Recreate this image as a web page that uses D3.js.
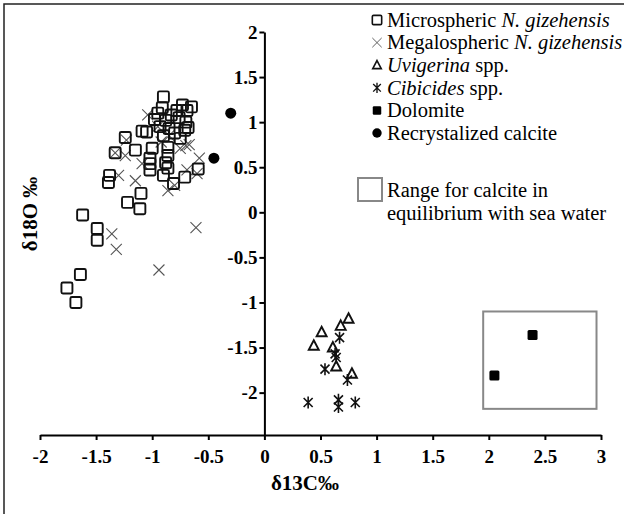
<!DOCTYPE html>
<html>
<head>
<meta charset="utf-8">
<script src="https://cdn.jsdelivr.net/npm/d3@7"></script>
<style>
  body { margin: 0; background: #fff; }
  svg, svg text { font-family: "Liberation Serif", "Times New Roman", serif; }
</style>
</head>
<body>
<div class="main"></div>
<script>
//// data
const microspheric = [[-0.90,1.28],[-0.91,1.16],[-0.73,1.19],[-0.65,1.17],[-0.78,1.13],[-0.69,1.13],[-0.95,1.10],[-0.83,1.08],[-0.76,1.05],[-0.98,1.03],[-0.88,1.02],[-0.70,1.00],[-1.09,0.90],[-1.05,0.89],[-0.93,0.95],[-0.85,0.93],[-0.71,0.91],[-0.68,0.94],[-0.80,0.88],[-0.90,0.85],[-0.75,0.82],[-1.24,0.83],[-1.15,0.69],[-1.33,0.66],[-1.00,0.71],[-1.02,0.60],[-1.02,0.54],[-1.02,0.47],[-0.86,0.63],[-0.86,0.72],[-0.88,0.55],[-0.86,0.49],[-0.90,0.41],[-0.81,0.32],[-0.71,0.39],[-0.59,0.48],[-1.38,0.41],[-1.39,0.33],[-1.10,0.21],[-1.22,0.11],[-1.11,0.04],[-1.62,-0.03],[-1.49,-0.18],[-1.49,-0.31],[-1.64,-0.69],[-1.76,-0.84],[-1.68,-1.00]];
const megalospheric = [[-1.04,1.08],[-1.23,0.80],[-1.24,0.63],[-1.33,0.66],[-1.09,0.54],[-1.15,0.35],[-1.30,0.41],[-0.86,0.24],[-0.80,0.30],[-0.69,0.47],[-0.60,0.43],[-0.58,0.60],[-0.70,0.74],[-0.67,0.75],[-0.75,0.71],[-0.95,0.95],[-0.85,0.85],[-0.92,0.78],[-1.36,-0.24],[-1.32,-0.41],[-0.94,-0.64],[-0.61,-0.17]];
const uvigerina = [[0.75,-1.18],[0.68,-1.26],[0.51,-1.33],[0.44,-1.48],[0.61,-1.50],[0.64,-1.71],[0.78,-1.79]];
const cibicides = [[0.67,-1.39],[0.63,-1.57],[0.64,-1.61],[0.54,-1.74],[0.74,-1.86],[0.39,-2.11],[0.66,-2.08],[0.66,-2.16],[0.81,-2.11]];
const dolomite = [[2.39,-1.36],[2.05,-1.81]];
const recrystalized = [[-0.30,1.10],[-0.45,0.60]];
const equilibriumRange = { x: [1.95, 2.96], y: [-1.10, -2.18] };
const xTicks = [-2,-1.5,-1,-0.5,0,0.5,1,1.5,2,2.5,3];
const yTicks = [-2,-1.5,-1,-0.5,0,0.5,1,1.5,2];

const width = 624;
const height = 514;
const serif = '"Liberation Serif", "Times New Roman", serif';

const svg = d3.select('.main').append('svg')
  .attr('width', width)
  .attr('height', height);

// outer frame (only top + left visible)
svg.append('path')
  .attr('d', `M4,${height} L4,4 L${width},4`)
  .attr('fill', 'none')
  .attr('stroke', '#222')
  .attr('stroke-width', 1.5);

const xScale = d3.scaleLinear().domain([-2, 3]).range([40, 601]);
const yScale = d3.scaleLinear().domain([-2.47, 2]).range([435, 32]);

const xAxis = d3.axisBottom(xScale).tickValues(xTicks).tickSize(5).tickSizeOuter(0).tickPadding(10).tickFormat(d => String(d));
const yAxis = d3.axisLeft(yScale).tickValues(yTicks).tickSize(5).tickSizeOuter(0).tickPadding(2).tickFormat(d => String(d));

const gx = svg.append('g')
  .attr('transform', `translate(0, ${yScale(-2.47)})`)
  .call(xAxis);
const gy = svg.append('g')
  .attr('transform', `translate(${xScale(0)}, 0)`)
  .call(yAxis);
[gx, gy].forEach(g => {
  g.select('.domain').attr('stroke', '#000').attr('stroke-width', 2);
  g.selectAll('.tick line').attr('stroke', '#000').attr('stroke-width', 2);
  g.selectAll('.tick text')
    .style('font-family', serif)
    .style('font-size', '19px')
    .style('font-weight', 'bold')
    .attr('fill', '#000');
});

// range box
svg.append('rect')
  .attr('x', xScale(equilibriumRange.x[0]))
  .attr('y', yScale(equilibriumRange.y[0]))
  .attr('width', xScale(equilibriumRange.x[1]) - xScale(equilibriumRange.x[0]))
  .attr('height', yScale(equilibriumRange.y[1]) - yScale(equilibriumRange.y[0]))
  .attr('fill', 'none')
  .attr('stroke', '#888')
  .attr('stroke-width', 2);

// marker shapes
const shapes = {
  openSquare: g => g.append('rect').attr('x', -5.5).attr('y', -5.5).attr('width', 11).attr('height', 11).attr('rx', 1.5)
    .attr('fill', 'none').attr('stroke', '#111').attr('stroke-width', 1.9),
  cross: g => g.append('path').attr('d', 'M-5.5,-5.5L5.5,5.5M-5.5,5.5L5.5,-5.5')
    .attr('stroke', '#555').attr('stroke-width', 1.1).attr('fill', 'none'),
  triangle: g => g.append('path').attr('d', 'M0,-5.5L5,4L-5,4Z')
    .attr('fill', 'none').attr('stroke', '#111').attr('stroke-width', 1.9),
  asterisk: g => g.append('path').attr('d', 'M0,-6L0,6M-4.5,-4.5L4.5,4.5M-4.5,4.5L4.5,-4.5')
    .attr('stroke', '#111').attr('stroke-width', 1.6).attr('fill', 'none'),
  filledSquare: g => g.append('rect').attr('x', -5).attr('y', -5).attr('width', 10).attr('height', 10).attr('rx', 1.5)
    .attr('fill', '#000'),
  filledCircle: g => g.append('circle').attr('r', 5.5).attr('fill', '#000')
};

function plot(data, shape) {
  svg.append('g').selectAll('g')
    .data(data)
    .enter()
    .append('g')
    .attr('transform', d => `translate(${xScale(d[0])},${yScale(d[1])})`)
    .each(function () { shapes[shape](d3.select(this)); });
}

plot(megalospheric, 'cross');
plot(microspheric, 'openSquare');
plot(uvigerina, 'triangle');
plot(cibicides, 'asterisk');
plot(dolomite, 'filledSquare');
plot(recrystalized, 'filledCircle');

// axis titles
svg.append('text')
  .attr('x', 305).attr('y', 490)
  .attr('text-anchor', 'middle')
  .attr('font-size', 21).attr('font-weight', 'bold')
  .text('δ13C‰');
svg.append('text')
  .attr('transform', 'translate(37, 214) rotate(-90)')
  .attr('text-anchor', 'middle')
  .attr('font-size', 21).attr('font-weight', 'bold')
  .text('δ18O ‰');

// legend
const legendRows = [
  { shape: 'openSquare', parts: [['Microspheric ', false], ['N. gizehensis', true]] },
  { shape: 'cross', parts: [['Megalospheric ', false], ['N. gizehensis', true]] },
  { shape: 'triangle', parts: [['Uvigerina', true], [' spp.', false]] },
  { shape: 'asterisk', parts: [['Cibicides', true], [' spp.', false]] },
  { shape: 'filledSquare', parts: [['Dolomite', false]] },
  { shape: 'filledCircle', parts: [['Recrystalized calcite', false]] }
];
const legend = svg.append('g').attr('transform', 'translate(377, 20)');
legendRows.forEach((row, i) => {
  const g = legend.append('g').attr('transform', `translate(0, ${i * 22.6})`);
  const m = g.append('g').attr('transform', 'scale(0.85)');
  shapes[row.shape](m);
  const t = g.append('text').attr('x', 10).attr('y', 6.8).attr('font-size', 20.5);
  row.parts.forEach(p => t.append('tspan').attr('font-style', p[1] ? 'italic' : 'normal').text(p[0]));
});
legend.append('rect')
  .attr('x', -19).attr('y', 158).attr('width', 24).attr('height', 23)
  .attr('fill', 'none').attr('stroke', '#888').attr('stroke-width', 2);
legend.append('text').attr('x', 10).attr('y', 176.8).attr('font-size', 20.5).text('Range for calcite in');
legend.append('text').attr('x', 10).attr('y', 199.8).attr('font-size', 20.5).text('equilibrium with sea water');
</script>
</body>
</html>
